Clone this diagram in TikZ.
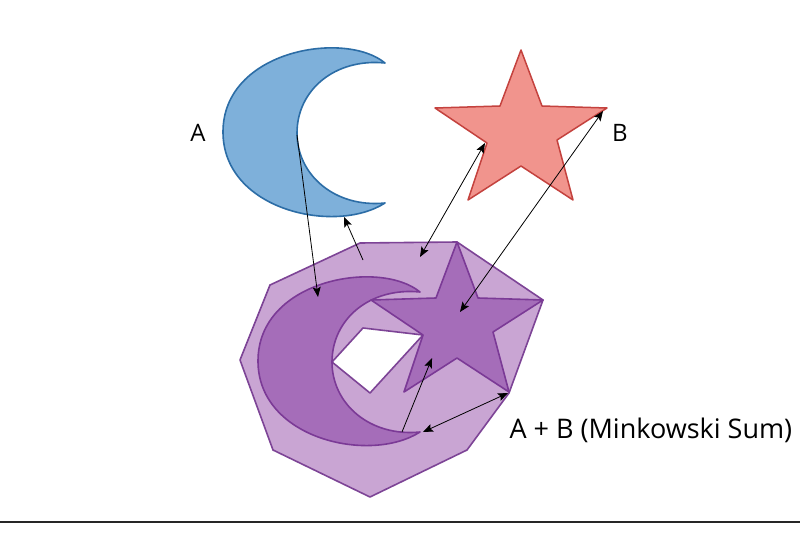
\documentclass[tikz,border=0pt]{standalone}
\usepackage{fontspec}
\setmainfont{Open Sans}
\usetikzlibrary{arrows.meta}
\definecolor{moonfill}{HTML}{7EB0DA}
\definecolor{moonline}{HTML}{2C6DA6}
\definecolor{starfill}{HTML}{F1948D}
\definecolor{starline}{HTML}{C4423E}
\definecolor{hullfill}{HTML}{C9A5D3}
\definecolor{hullline}{HTML}{7D4496}
\definecolor{sumfill}{HTML}{A56DB9}
\definecolor{sumline}{HTML}{7B3A96}
\newcommand{\moonshape}{(385,63) .. controls (345,30) and (223,50) .. (223,132) .. controls (223,210) and (335,235) .. (385,203) .. controls (335,208) and (297,175) .. (297,133) .. controls (297,90) and (335,58) .. (385,63) -- cycle}
\newcommand{\starshape}{(521,50) -- (542,106) -- (607,108) -- (557,140) -- (573,200) -- (521,166) -- (468,200) -- (487,143) -- (435,108) -- (500,106) -- cycle}
\tikzset{
  moonA/.style={fill=moonfill,draw=moonline,line width=1.6pt,line join=round},
  starB/.style={fill=starfill,draw=starline,line width=1.5pt,line join=round},
  hull/.style={fill=hullfill,draw=hullline,line width=1.6pt,line join=round},
  hole/.style={fill=white,draw=hullline,line width=1.6pt,line join=round},
  sumpart/.style={fill=sumfill,draw=sumline,line width=1.6pt,line join=round},
  arr/.style={line width=0.8pt,black,-{Stealth[length=10pt,width=8pt,inset=2pt]}},
  darr/.style={line width=0.8pt,black,{Stealth[length=10pt,width=8pt,inset=2pt]}-{Stealth[length=10pt,width=8pt,inset=2pt]}},
  lbl/.style={font=\fontsize{24}{28}\selectfont,text=black}
}
\begin{document}
\begin{tikzpicture}[x=1pt,y=-1pt]
\useasboundingbox[fill=white] (0,0) rectangle (800,559);
% shapes A and B
\draw[moonA] \moonshape;
\draw[starB] \starshape;
% Minkowski sum hull
\draw[hull] (360,243) -- (457,242) -- (543,300) -- (509,393) -- (467,450) -- (370,497) -- (273,450) -- (240,360) -- (270,285) -- cycle;
\draw[hole] (363,328) -- (423,335) -- (370,393) -- (332,362) -- cycle;
\begin{scope}[shift={(35,229)}]
\draw[sumpart] \moonshape;
\end{scope}
\begin{scope}[shift={(-64,192)}]
\draw[sumpart] \starshape;
\end{scope}
% labels
\node[lbl] (la) at (198,133) {A};
\node[lbl] (lb) at (620,133) {B};
\node[font=\fontsize{27}{31}\selectfont,anchor=base west] (lsum) at (506,438) {A + B (Minkowski Sum)};
% connector end points
\coordinate (a1s) at (297,135);
\coordinate (a1e) at (318,297);
\coordinate (a2s) at (363,260);
\coordinate (a2e) at (344,217);
\coordinate (a3s) at (420,257);
\coordinate (a3e) at (485,143);
\coordinate (a4s) at (603,111);
\coordinate (a4e) at (460,312);
\coordinate (a5s) at (402,432);
\coordinate (a5e) at (432,358);
\coordinate (a6s) at (423,432);
\coordinate (a6e) at (508,393);
\draw[arr] (a1s) -- (a1e);
\draw[arr] (a2s) -- (a2e);
\draw[darr] (a3s) -- (a3e);
\draw[darr] (a4s) -- (a4e);
\draw[arr] (a5s) -- (a5e);
\draw[darr] (a6s) -- (a6e);
% bottom rule
\coordinate (rl) at (0,522);
\coordinate (rr) at (800,522);
\draw[line width=1.5pt,black!85] (rl) -- (rr);
\end{tikzpicture}
\end{document}
